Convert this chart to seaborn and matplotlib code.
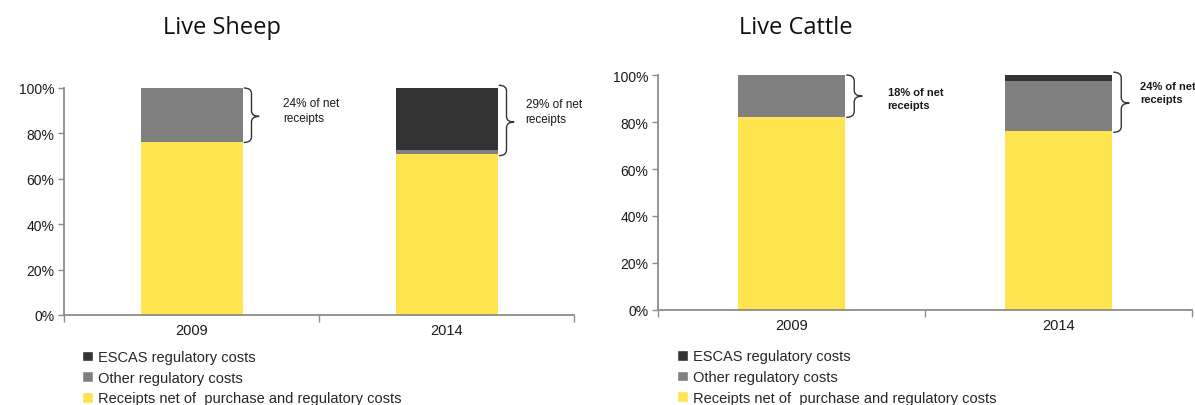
import matplotlib
matplotlib.use("Agg")
import matplotlib.pyplot as plt
from matplotlib.path import Path
from matplotlib.patches import PathPatch, Patch
from matplotlib.ticker import FixedLocator
import pandas as pd
import seaborn as sns

# ---- data (shares of gross receipts, %) ----
years = ["2009", "2014"]
sheep_receipts = [76.0, 71.0]
sheep_other = [24.0, 1.5]
sheep_escas = [0.0, 27.5]
cattle_receipts = [82.0, 76.0]
cattle_other = [18.0, 21.5]
cattle_escas = [0.0, 2.5]
sheep_notes = ["24% of net\nreceipts", "29% of net\nreceipts"]
cattle_notes = ["18% of net\nreceipts", "24% of net\nreceipts"]
series_labels = ["ESCAS regulatory costs", "Other regulatory costs",
                 "Receipts net of  purchase and regulatory costs"]
y_ticks = [0, 20, 40, 60, 80, 100]

YELLOW = "#FFE34F"
GREY = "#808080"
DARK = "#333333"
AXIS = "#8C8C8C"

sns.set_theme(style="white")
plt.rcParams["font.family"] = ["Liberation Sans Narrow", "Liberation Sans", "DejaVu Sans"]

fig = plt.figure(figsize=(11.95, 4.06), dpi=100)
ax_l = fig.add_axes([0.0536, 0.2217, 0.4268, 0.5591])
ax_r = fig.add_axes([0.5506, 0.2340, 0.4469, 0.5788])


def brace(ax, x0, y_bot, y_top, y_mid, dx, dy):
    x1 = x0 + dx
    x2 = x1 + dx
    verts = [(x0, y_top), (x1, y_top), (x1, y_top - dy),
             (x1, y_mid + dy),
             (x1, y_mid), (x2, y_mid),
             (x1, y_mid), (x1, y_mid - dy),
             (x1, y_bot + dy),
             (x1, y_bot), (x0, y_bot)]
    codes = [Path.MOVETO, Path.CURVE3, Path.CURVE3,
             Path.LINETO,
             Path.CURVE3, Path.CURVE3,
             Path.CURVE3, Path.CURVE3,
             Path.LINETO,
             Path.CURVE3, Path.CURVE3]
    ax.add_patch(PathPatch(Path(verts, codes), fill=False, lw=1.0,
                           edgecolor="#333333", clip_on=False))


def stacked(ax, receipts, other, escas, notes, brace_spec, note_spec,
            note_weight, note_size, legend_y):
    df = pd.DataFrame({"year": years, "receipts": receipts,
                       "other": other, "escas": escas})
    df["lvl2"] = df["receipts"] + df["other"]
    df["lvl3"] = df["lvl2"] + df["escas"]
    # Stack by overdrawing cumulative totals from the top down
    sns.barplot(data=df, x="year", y="lvl3", color=DARK, width=0.4,
                saturation=1, ax=ax, linewidth=0)
    sns.barplot(data=df, x="year", y="lvl2", color=GREY, width=0.4,
                saturation=1, ax=ax, linewidth=0)
    sns.barplot(data=df, x="year", y="receipts", color=YELLOW, width=0.4,
                saturation=1, ax=ax, linewidth=0)

    ax.set_xlim(-0.5, 1.5)
    ax.set_ylim(0, 100)
    ax.set_xlabel("")
    ax.set_ylabel("")
    ax.set_yticks(y_ticks)
    ax.set_yticklabels([f"{t}%" for t in y_ticks])
    ax.xaxis.set_minor_locator(FixedLocator([-0.5, 0.5, 1.5]))
    ax.tick_params(axis="x", which="major", length=0, pad=6, labelsize=10.5,
                   labelcolor="#1a1a1a")
    ax.tick_params(axis="x", which="minor", length=5, width=1, color=AXIS,
                   direction="out", bottom=True)
    ax.tick_params(axis="y", length=4, width=1, color=AXIS, direction="out",
                   left=True, labelsize=10, labelcolor="#1a1a1a", pad=3)
    for side in ("top", "right"):
        ax.spines[side].set_visible(False)
    for side in ("left", "bottom"):
        ax.spines[side].set_color(AXIS)
        ax.spines[side].set_linewidth(1.3)

    for i, (note, (yb, yt, ym), (tx, ty)) in enumerate(zip(notes, brace_spec, note_spec)):
        brace(ax, i + 0.205, yb, yt, ym, 0.03, 2.5)
        ax.text(i + tx, ty, note, fontsize=note_size, fontweight=note_weight,
                va="center", ha="left", color="#1a1a1a", linespacing=1.3)

    handles = [Patch(facecolor=DARK), Patch(facecolor=GREY), Patch(facecolor=YELLOW)]
    ax.legend(handles, series_labels, loc="upper left",
              bbox_to_anchor=(0.035, legend_y), frameon=False, fontsize=10.5,
              handlelength=0.75, handleheight=0.75, handletextpad=0.35,
              labelspacing=0.45, borderpad=0, borderaxespad=0)


stacked(ax_l, sheep_receipts, sheep_other, sheep_escas, sheep_notes,
        [(76.0, 100.0, 87.5), (70.2, 101.2, 85.0)],
        [(0.36, 90.0), (0.31, 89.5)], "normal", 8.5, -0.155)
stacked(ax_r, cattle_receipts, cattle_other, cattle_escas, cattle_notes,
        [(82.0, 100.0, 91.0), (75.6, 101.2, 88.0)],
        [(0.36, 90.0), (0.305, 92.5)], "bold", 8.0, -0.168)

fig.text(222 / 1195, 1 - 28 / 406, "Live Sheep", fontsize=17, family="Open Sans",
         ha="center", va="center", color="#111111")
fig.text(796 / 1195, 1 - 28 / 406, "Live Cattle", fontsize=17, family="Open Sans",
         ha="center", va="center", color="#111111")

fig.savefig("out.png", dpi=100)
